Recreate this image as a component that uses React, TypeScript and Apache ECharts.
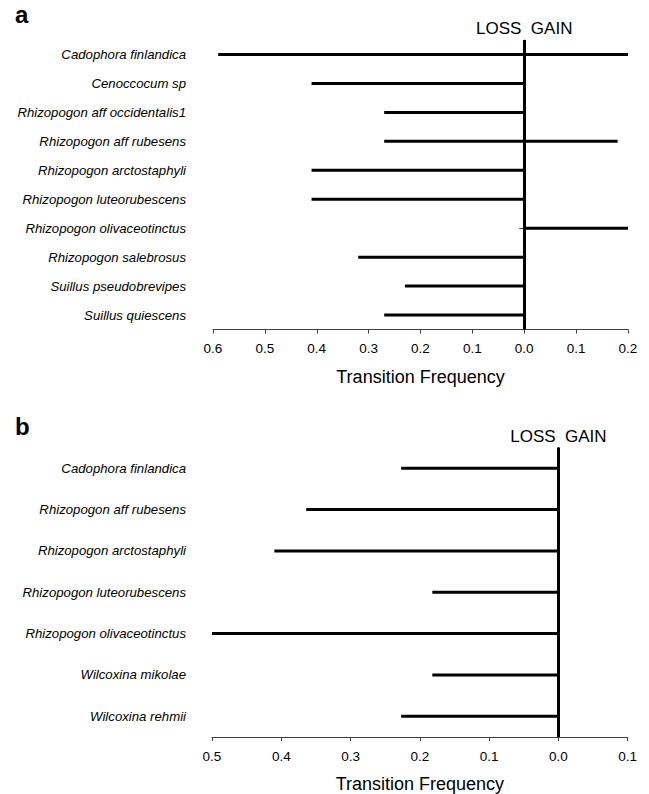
import React, { useEffect, useRef } from "react";
import * as echarts from "echarts";

const catsA = [
  "Cadophora finlandica",
  "Cenoccocum sp",
  "Rhizopogon aff occidentalis1",
  "Rhizopogon aff rubesens",
  "Rhizopogon arctostaphyli",
  "Rhizopogon luteorubescens",
  "Rhizopogon olivaceotinctus",
  "Rhizopogon salebrosus",
  "Suillus pseudobrevipes",
  "Suillus quiescens",
];
const lossA = [0.59, 0.41, 0.27, 0.27, 0.41, 0.41, 0, 0.32, 0.23, 0.27];
const gainA = [0.2, 0, 0, 0.18, 0, 0, 0.2, 0, 0, 0];

const catsB = [
  "Cadophora finlandica",
  "Rhizopogon aff rubesens",
  "Rhizopogon arctostaphyli",
  "Rhizopogon luteorubescens",
  "Rhizopogon olivaceotinctus",
  "Wilcoxina mikolae",
  "Wilcoxina rehmii",
];
const lossB = [0.227, 0.364, 0.41, 0.182, 0.5, 0.182, 0.227];
const gainB = [0, 0, 0, 0, 0, 0, 0];

const FONT = 'Arial, "Liberation Sans", sans-serif';
const AXIS_COLOR = "#404040";

function xAxisFor(gridIndex: number, min: number, max: number) {
  return {
    type: "value",
    gridIndex,
    min,
    max,
    interval: 0.1,
    name: "Transition Frequency",
    nameLocation: "middle",
    nameGap: 38,
    nameTextStyle: { fontFamily: FONT, fontSize: 18, color: "#000" },
    axisLine: { show: true, onZero: false, lineStyle: { color: AXIS_COLOR, width: 1 } },
    axisTick: { show: true, length: 4, lineStyle: { color: AXIS_COLOR, width: 1 } },
    axisLabel: {
      margin: 12,
      fontFamily: FONT,
      fontSize: 13.5,
      color: "#000",
      formatter: (v: number) => Math.abs(v).toFixed(1),
    },
    splitLine: { show: false },
  };
}

function yAxisFor(gridIndex: number, cats: string[], offset: number) {
  return {
    type: "category",
    gridIndex,
    data: cats,
    inverse: true,
    offset,
    axisLine: { show: true, lineStyle: { color: AXIS_COLOR, width: 1 } },
    axisTick: { show: true, alignWithLabel: true, length: 5, lineStyle: { color: AXIS_COLOR, width: 1 } },
    axisLabel: {
      margin: 16,
      fontFamily: FONT,
      fontSize: 13.2,
      fontStyle: "italic",
      color: "#000",
    },
    splitLine: { show: false },
  };
}

function zeroLine() {
  return {
    silent: true,
    symbol: "none",
    lineStyle: { color: "#000", width: 3, type: "solid" },
    label: {
      show: true,
      position: "start",
      distance: 3,
      formatter: "LOSS  GAIN",
      fontFamily: FONT,
      fontSize: 17,
      color: "#000",
    },
    data: [{ xAxis: 0 }],
  };
}

const toLoss = (arr: number[]) => arr.map((v) => (v === 0 ? null : -v));
const toGain = (arr: number[]) => arr.map((v) => (v === 0 ? null : v));

export default function App() {
  const ref = useRef<HTMLDivElement>(null);
  useEffect(() => {
    if (!ref.current) return;
    const chart = echarts.init(ref.current, null, { renderer: "svg" });
    const barCommon = {
      type: "bar",
      barWidth: 3,
      barGap: "-100%",
      itemStyle: { color: "#000" },
      silent: true,
    };
    chart.setOption({
      animation: false,
      backgroundColor: "#fff",
      grid: [
        { left: 213, right: 21, top: 40, height: 289.5 },
        { left: 212, right: 21.3, top: 447.5, height: 290 },
      ],
      xAxis: [xAxisFor(0, -0.6, 0.2), xAxisFor(1, -0.5, 0.1)],
      yAxis: [yAxisFor(0, catsA, 11), yAxisFor(1, catsB, 10)],
      series: [
        {
          ...barCommon,
          name: "lossA",
          xAxisIndex: 0,
          yAxisIndex: 0,
          data: toLoss(lossA),
          markLine: zeroLine(),
        },
        { ...barCommon, name: "gainA", xAxisIndex: 0, yAxisIndex: 0, data: toGain(gainA) },
        {
          ...barCommon,
          name: "lossB",
          xAxisIndex: 1,
          yAxisIndex: 1,
          data: toLoss(lossB),
          markLine: zeroLine(),
        },
        { ...barCommon, name: "gainB", xAxisIndex: 1, yAxisIndex: 1, data: toGain(gainB) },
      ],
      graphic: [
        {
          type: "text",
          left: 15,
          top: 2,
          style: { text: "a", fontFamily: FONT, fontSize: 24, fontWeight: "bold", fill: "#000" },
        },
        {
          type: "text",
          left: 15,
          top: 414,
          style: { text: "b", fontFamily: FONT, fontSize: 24, fontWeight: "bold", fill: "#000" },
        },
      ],
    });
    return () => chart.dispose();
  }, []);
  return (
    <div
      ref={ref}
      style={{ position: "fixed", left: 0, top: 0, width: 649, height: 794, background: "#fff" }}
    />
  );
}
